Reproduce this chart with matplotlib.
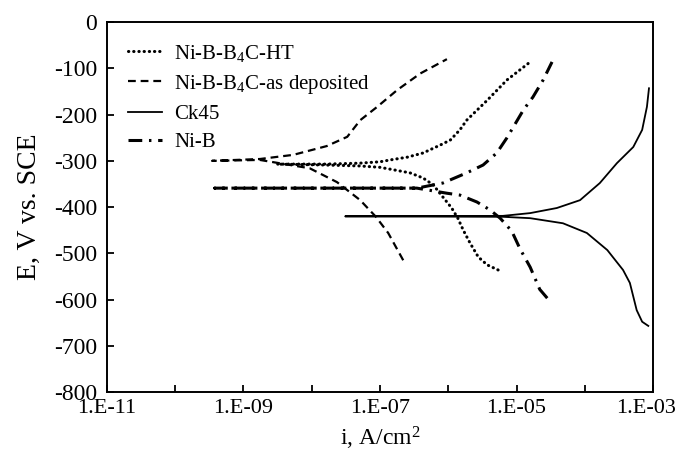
import numpy as np
import matplotlib
matplotlib.use("Agg")
import matplotlib.pyplot as plt
from matplotlib.ticker import FixedLocator, FuncFormatter
from matplotlib.transforms import ScaledTranslation

plt.rcParams["font.family"] = ["Liberation Serif", "DejaVu Serif"]
plt.rcParams["mathtext.fontset"] = "custom"
plt.rcParams["mathtext.rm"] = "Liberation Serif"
plt.rcParams["mathtext.it"] = "Liberation Serif:italic"
plt.rcParams["axes.unicode_minus"] = False

# polarization curves (i in A/cm2, E in mV vs SCE)
# each curve runs from the cathodic end, through Ecorr, up the anodic branch
ht_logi = [-5.27, -5.43, -5.56, -5.68, -5.78, -5.86, -5.95, -6.08, -6.22, -6.37, -6.56,
           -6.85, -7.0, -7.3, -7.8, -8.51,
           -7.8, -7.3, -7.0, -6.85, -6.6, -6.37, -6.12, -5.97, -5.83, -5.73, -5.43, -5.14, -4.80]
ht_E = [-536, -525, -508, -478, -450, -424, -402, -378, -352, -337, -326,
        -318, -314, -311, -309, -307,
        -307, -305, -302, -298, -292, -283, -266, -255, -233, -212, -169, -125, -86]

asdep_logi = [-6.66, -6.88, -7.06, -7.29, -7.63, -8.03, -8.76, -9.46,
              -8.76, -8.27, -7.78, -7.48, -7.29, -7.04, -6.75, -6.41, -6.02]
asdep_E = [-515, -456, -421, -385, -346, -316, -298, -300,
           -296, -287, -268, -248, -212, -183, -147, -111, -80]

ck45_logi = [-3.07, -3.16, -3.24, -3.34, -3.44, -3.59, -3.67, -3.97, -4.32, -4.80, -5.2, -7.51,
             -5.2, -4.80, -4.41, -4.07, -3.78, -3.53, -3.29, -3.16, -3.09, -3.06]
ck45_E = [-657, -648, -623, -564, -536, -508, -493, -456, -435, -424, -421, -420,
          -419, -413, -402, -385, -348, -305, -270, -233, -183, -143]

nib_logi = [-4.55, -4.66, -4.80, -4.95, -5.07, -5.24, -5.39, -5.58, -5.83, -6.02, -6.46, -9.42,
            -6.46, -6.08, -5.73, -5.49, -5.29, -5.14, -4.90, -4.76, -4.61, -4.48]
nib_E = [-597, -578, -530, -490, -452, -424, -406, -389, -374, -370, -359, -359,
         -359, -348, -326, -309, -283, -250, -190, -162, -125, -86]

labels = ["Ni-B-B$_4$C-HT", "Ni-B-B$_4$C-as deposited", "Ck45", "Ni-B"]

fig = plt.figure(figsize=(6.81, 4.62), dpi=100)
ax = fig.add_axes([0.157, 0.1515, 0.802, 0.8005])

ax.plot(10.0 ** np.array(ht_logi), ht_E, color="black", lw=2.2,
        linestyle=(0, (0.1, 1.6)), dash_capstyle="round", label=labels[0])
ax.plot(10.0 ** np.array(asdep_logi), asdep_E, color="black", lw=1.6,
        linestyle=(0, (3.5, 2.2)), label=labels[1])
ax.plot(10.0 ** np.array(ck45_logi), ck45_E, color="black", lw=1.3,
        linestyle="-", label=labels[2])
ax.plot(10.0 ** np.array(nib_logi), nib_E, color="black", lw=2.2,
        linestyle=(0, (4.5, 2.2, 0.8, 2.2)), label=labels[3])

ax.set_xscale("log")
ax.set_xlim(1e-11, 1e-3)
ax.set_ylim(-800, 0)
ax.set_yticks(np.arange(-800, 1, 100))

decades = [10.0 ** k for k in range(-11, -2)]
ax.xaxis.set_major_locator(FixedLocator(decades))
ax.xaxis.set_minor_locator(FixedLocator([]))
ax.xaxis.set_major_formatter(FuncFormatter(
    lambda v, pos: "1.E-%02d" % round(-np.log10(v)) if round(-np.log10(v)) % 2 == 1 else ""))

ax.tick_params(direction="in", length=5, width=1.3)
ax.tick_params(axis="x", pad=5, labelsize=16)
ax.tick_params(axis="y", pad=7, labelsize=17)
for s in ax.spines.values():
    s.set_linewidth(1.4)

# last x label sits a little left so it stays inside the picture
last = ax.xaxis.get_major_ticks()[-1].label1
last.set_transform(last.get_transform() + ScaledTranslation(-5 / 72, 0, fig.dpi_scale_trans))

ax.set_xlabel("i, A/cm$^2$", fontsize=17, labelpad=5)
ax.set_ylabel("E, V vs. SCE", fontsize=20, labelpad=9)

ax.legend(loc="upper left", bbox_to_anchor=(0.005, 0.995), frameon=False, fontsize=15,
          handlelength=1.6, handletextpad=0.6, labelspacing=0.42)

fig.savefig("out.png", dpi=100)
